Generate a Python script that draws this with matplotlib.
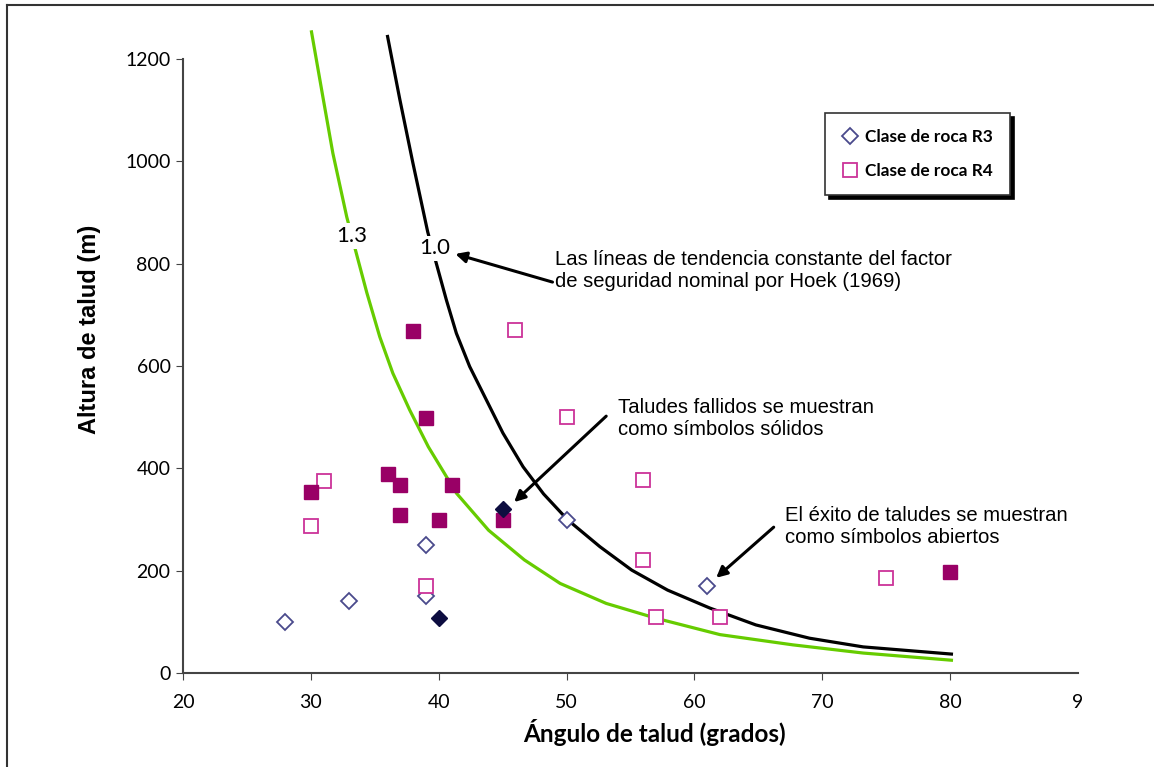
import matplotlib
matplotlib.use('Agg')
from matplotlib import pyplot as plt
from matplotlib.lines import Line2D

# curvas de factor de seguridad (Hoek 1969)
fs13_x = [30.05, 30.94, 31.72, 32.81, 33.59, 34.38, 35.39, 36.41, 37.73, 39.19,
          41.4, 43.9, 46.7, 49.5, 53.1, 57.0, 62.0, 67.7, 73.2, 80.1]
fs13_y = [1253, 1126, 1016, 891, 817, 743, 657, 586, 514, 442,
          351, 279, 221, 175, 136, 107, 75, 55, 39, 25]
fs10_x = [36.0, 36.95, 37.97, 39.14, 39.95, 40.6, 41.38, 42.42, 43.72, 45.02,
          46.6, 48.2, 50.1, 52.6, 55.1, 57.9, 61.2, 64.8, 69.0, 73.2, 80.1]
fs10_y = [1244, 1122, 998, 862, 788, 729, 664, 599, 534, 469,
          403, 350, 299, 247, 201, 162, 127, 94, 68, 51, 37]

# clase de roca R3 (rombos)
r3_open_x = [28, 33, 39, 39, 50, 61]
r3_open_y = [100, 140, 250, 150, 300, 170]
r3_fail_x = [40, 45]
r3_fail_y = [108, 320]

# clase de roca R4 (cuadrados)
r4_open_x = [46, 50, 31, 30, 39, 56, 56, 57, 62, 75]
r4_open_y = [670, 500, 375, 288, 170, 378, 220, 110, 110, 185]
r4_fail_x = [38, 39, 36, 37, 30, 41, 37, 40, 45, 80]
r4_fail_y = [668, 498, 388, 368, 354, 368, 308, 300, 300, 198]

xticks = [20, 30, 40, 50, 60, 70, 80]
yticks = [0, 200, 400, 600, 800, 1000, 1200]

tick_font = ['Lato', 'DejaVu Sans']
arial = ['Liberation Sans', 'DejaVu Sans']

fig = plt.figure(figsize=(11.54, 7.67), dpi=100)
ax = fig.add_axes([183 / 1154, 1 - 673 / 767, (1078 - 183) / 1154, (673 - 59) / 767])

ax.plot(fs13_x, fs13_y, color='#66cc00', lw=2.3, clip_on=False, zorder=2)
ax.plot(fs10_x, fs10_y, color='black', lw=2.3, clip_on=False, zorder=2)

ax.plot(r3_open_x, r3_open_y, 'D', ms=8, mfc='white', mec='#4a4a8c', mew=1.3,
        ls='none', label='Clase de roca R3', zorder=4)
ax.plot(r3_fail_x, r3_fail_y, 'D', ms=8, mfc='#0d0d40', mec='#0d0d40',
        ls='none', zorder=5)
ax.plot(r4_open_x, r4_open_y, 's', ms=10, mfc='white', mec='#cc3399', mew=1.3,
        ls='none', label='Clase de roca R4', zorder=4)
ax.plot(r4_fail_x, r4_fail_y, 's', ms=9.5, mfc='#990066', mec='#990066',
        ls='none', zorder=4)

# etiquetas de las curvas
ax.text(33.2, 854, '1.3', fontsize=16, family=tick_font, ha='center', va='center',
        bbox=dict(fc='white', ec='none', pad=2), zorder=3)
ax.text(39.7, 830, '1.0', fontsize=16, family=tick_font, ha='center', va='center',
        bbox=dict(fc='white', ec='none', pad=2), zorder=3)

arrow = dict(arrowstyle='-|>', color='black', lw=2.2, mutation_scale=16,
             shrinkA=0, shrinkB=0)
ax.annotate('', xy=(41.3, 819), xytext=(48.9, 764), arrowprops=arrow)
ax.text(49.1, 827, 'Las líneas de tendencia constante del factor\n'
        'de seguridad nominal por Hoek (1969)',
        fontsize=14.6, family=arial, va='top', ha='left', linespacing=1.2)

ax.annotate('', xy=(45.9, 334), xytext=(53.1, 502), arrowprops=arrow)
ax.text(54.0, 537, 'Taludes fallidos se muestran\ncomo símbolos sólidos',
        fontsize=14.6, family=arial, va='top', ha='left', linespacing=1.2)

ax.annotate('', xy=(61.7, 186), xytext=(66.2, 285), arrowprops=arrow)
ax.text(67.1, 326, 'El éxito de taludes se muestran\ncomo símbolos abiertos',
        fontsize=14.6, family=arial, va='top', ha='left', linespacing=1.2)

ax.set_xlim(20, 90)
ax.set_ylim(0, 1200)
ax.set_xticks(xticks)
ax.set_yticks(yticks)
ax.set_xticks([90], labels=['9'], minor=True)
ax.tick_params(which='both', labelsize=14, direction='out', color='#444444')
ax.tick_params(axis='x', which='major', length=5, pad=10)
ax.tick_params(axis='x', which='minor', length=0, pad=15)
ax.tick_params(axis='y', length=5, pad=4)
for lbl in ax.get_xticklabels(which='both') + ax.get_yticklabels():
    lbl.set_family(tick_font)

for s in ['top', 'right']:
    ax.spines[s].set_visible(False)
for s in ['left', 'bottom']:
    ax.spines[s].set_color('#444444')
    ax.spines[s].set_linewidth(1.5)

ax.set_xlabel('Ángulo de talud (grados)', fontsize=17.5, fontweight='bold',
              family=tick_font)
ax.xaxis.set_label_coords(0.527, -0.075)
ax.set_ylabel('Altura de talud (m)', fontsize=17, fontweight='bold', family=arial)
ax.yaxis.set_label_coords(-0.092, 0.559)

leg = ax.legend(loc='upper left', bbox_to_anchor=(825 / 1154, 1 - 113 / 767),
                bbox_transform=fig.transFigure, frameon=True, fancybox=False,
                shadow={'color': 'black', 'alpha': 1, 'ox': 3, 'oy': -3},
                edgecolor='#333333', borderpad=0.95, handlelength=1.0,
                handletextpad=0.4, labelspacing=1.0, borderaxespad=0,
                prop={'family': tick_font, 'weight': 'bold', 'size': 12.4})
leg.get_frame().set_linewidth(1.2)

# marco de la figura
fig.add_artist(Line2D([7 / 1154, 1], [1 - 5 / 767, 1 - 5 / 767],
                      transform=fig.transFigure, color='#333333', lw=1.5))
fig.add_artist(Line2D([7 / 1154, 7 / 1154], [0, 1 - 5 / 767],
                      transform=fig.transFigure, color='#333333', lw=1.5))

fig.savefig('out.png', dpi=100)
